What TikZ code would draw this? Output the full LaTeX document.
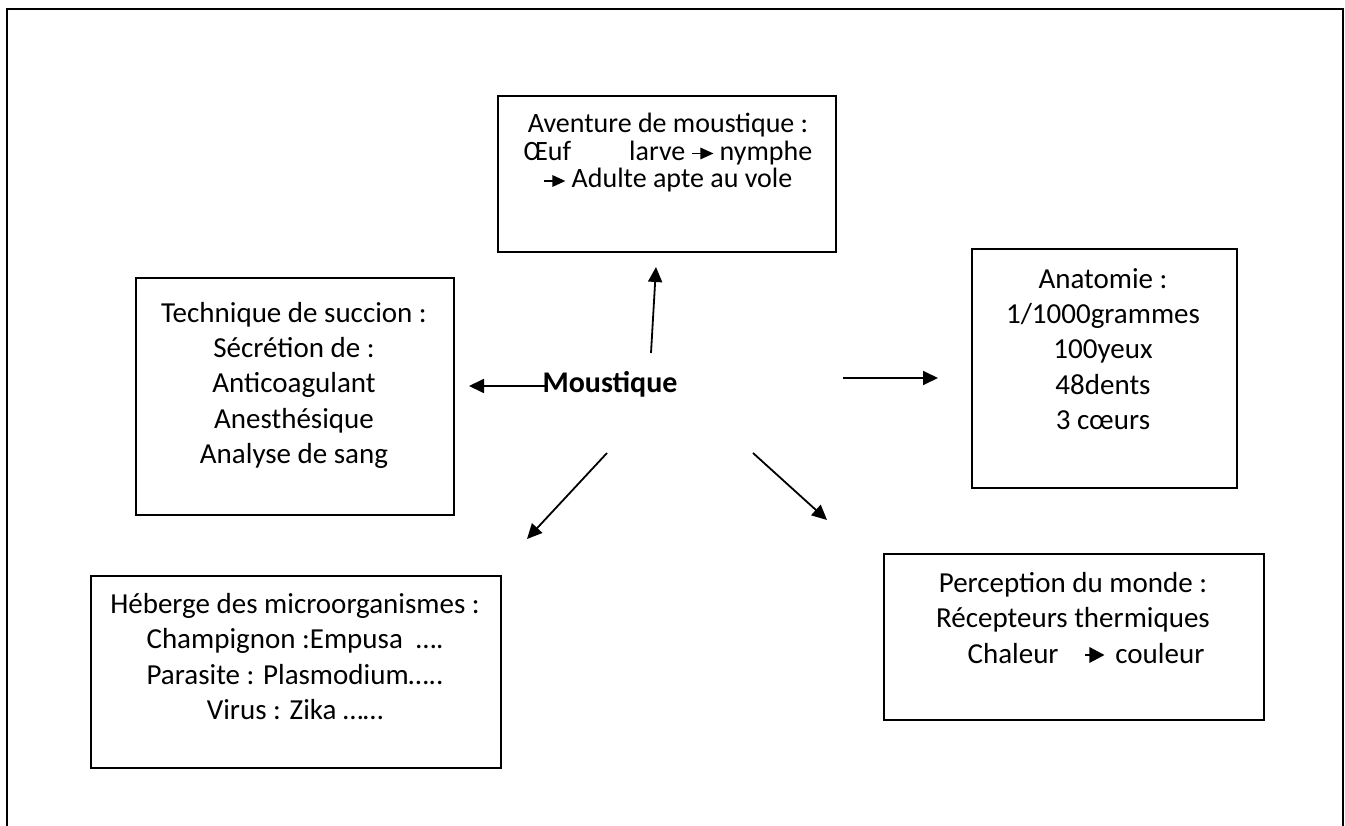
\documentclass[tikz,border=0pt]{standalone}
\usepackage{fontspec}
\setmainfont{Carlito}
\usetikzlibrary{arrows.meta}
% small inline arrows used inside the box texts
\newcommand\txtarrow{\tikz[baseline={(0,0)},x=1pt,y=1pt]{\draw[line width=1.3pt] (0,7)--(10,7); \fill (8,1)--(21,7)--(8,13)--cycle;}}
\newcommand\wideheadarrow{\tikz[baseline={(0,0)},x=1pt,y=1pt]{\draw[line width=1.6pt] (0,8)--(6,8); \fill (4,0)--(19,8)--(4,16)--cycle;}}
\begin{document}
\begin{tikzpicture}[x=1pt,y=-1pt,
  box/.style={draw, line width=1.8pt, inner sep=0pt, anchor=north west},
  boxtext/.style={font=\fontsize{29}{35.5}\selectfont, align=center, anchor=base, inner sep=0pt},
  link/.style={line width=1.8pt, -{Triangle[length=15pt,width=14pt]}}]
\useasboundingbox (0,0) rectangle (1345,826);
% outer frame (open at the bottom)
\draw[line width=2.5pt] (7,832) -- (7,9) -- (1343,9) -- (1343,832);

% boxes
\node[box, minimum width=338, minimum height=156] (cyclebox) at (497,95) {};
\node[box, minimum width=318, minimum height=237] (suckbox) at (135,277) {};
\node[box, minimum width=265, minimum height=239] (anatbox) at (971,248) {};
\node[box, minimum width=410, minimum height=192] (hostbox) at (90,575) {};
\node[box, minimum width=380, minimum height=166] (percbox) at (883,553) {};

% box texts (anchored on the baseline of their last line)
\node[boxtext, font=\fontsize{28}{27.5}\selectfont] (cycletext) at (668,188)
  {Aventure de moustique :\\Œuf\hspace{58pt}larve \txtarrow{} nymphe\\\txtarrow{} Adulte apte au vole};
\node[boxtext] (sucktext) at (294,464)
  {Technique de succion :\\Sécrétion de :\\Anticoagulant\\Anesthésique\\Analyse de sang};
\node[boxtext] (anattext) at (1103,430)
  {Anatomie :\\1/1000grammes\\100yeux\\48dents\\3 cœurs};
\node[boxtext] (hosttext) at (295,719.5)
  {Héberge des microorganismes :\\Champignon :Empusa \ ….\\Parasite : Plasmodium…..\\Virus : Zika ……};
\node[boxtext] (perctext) at (1073,663)
  {Perception du monde :\\Récepteurs thermiques\\\hspace{26pt}Chaleur\hspace{26pt}\wideheadarrow\hspace{11pt}couleur};

% central word
\node[font=\fontsize{30}{36}\bfseries\selectfont, anchor=base, inner sep=0pt] (hub) at (610,392) {Moustique};

% connector end points
\coordinate (upA) at (651,353);   \coordinate (upB) at (656,267);
\coordinate (lfA) at (548,386);   \coordinate (lfB) at (469,386);
\coordinate (rtA) at (843,378);   \coordinate (rtB) at (938,378);
\coordinate (dlA) at (607,453);   \coordinate (dlB) at (527,539);
\coordinate (drA) at (753,453);   \coordinate (drB) at (827,520);

\draw[link] (upA) -- (upB);
\draw[link] (lfA) -- (lfB);
\draw[link] (rtA) -- (rtB);
\draw[link] (dlA) -- (dlB);
\draw[link] (drA) -- (drB);
\end{tikzpicture}
\end{document}
